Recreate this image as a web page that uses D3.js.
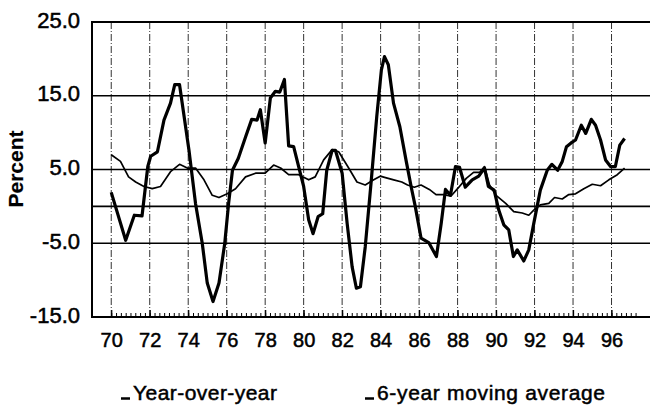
<!DOCTYPE html>
<html>
<head>
<meta charset="utf-8">
<script src="https://cdn.jsdelivr.net/npm/d3@7"></script>
<style>
  body { margin: 0; background: #fff; }
  text { font-family: "Liberation Sans", Arial, Helvetica, sans-serif; fill: #000; stroke: #000; stroke-width: 0.5px; }
</style>
</head>
<body>
<div id="chartArea"></div>
<script>

// year-over-year series (thick line)
var yoyYears = [70.0, 70.75, 71.2, 71.6, 71.9, 72.05, 72.4, 72.74, 73.08, 73.3, 73.55, 74.04, 74.38, 74.73, 74.99, 75.29, 75.6, 75.9, 76.1, 76.3, 76.6, 76.98,
  77.3, 77.58, 77.75, 78.0, 78.27, 78.53, 78.76, 79.0, 79.22, 79.48, 79.74, 80.0, 80.26, 80.49, 80.75, 80.99, 81.2, 81.48, 81.65, 82.0, 82.26, 82.52, 82.74, 82.95,
  83.2, 83.5, 83.8, 84.04, 84.2, 84.4, 84.67, 85.0, 85.34, 85.6, 85.8, 86.1, 86.5, 86.9, 87.15, 87.37, 87.63, 87.89, 88.1, 88.4, 88.76, 89.1, 89.4, 89.6, 89.9,
  90.14, 90.4, 90.66, 90.9, 91.1, 91.44, 91.7, 91.96, 92.3, 92.66, 92.9, 93.2, 93.44, 93.66, 93.9, 94.13, 94.43, 94.66, 94.95, 95.17, 95.43, 95.69, 95.95, 96.2, 96.43, 96.68]
var yoyValues = [1.9, -4.6, -1.2, -1.3, 5.4, 6.8, 7.4, 11.7, 14.0, 16.5, 16.5, 7.6, 0.4, -5.0, -10.4, -12.9, -10.4, -5.0, 0.4, 4.9, 6.5, 9.4,
  11.8, 11.7, 13.1, 8.6, 14.7, 15.6, 15.5, 17.2, 8.2, 8.1, 5.4, 2.7, -1.8, -3.7, -1.4, -1.0, 4.9, 7.6, 7.6, 4.5, -2.3, -8.2, -11.1, -10.9,
  -5.5, 3.1, 12.2, 18.5, 20.3, 19.2, 14.0, 10.8, 6.0, 2.5, 0.0, -4.3, -4.9, -6.8, -2.3, 2.3, 1.5, 5.4, 5.3, 2.6, 3.6, 4.1, 5.2, 2.7, 2.2,
  -0.5, -2.5, -3.2, -6.8, -5.9, -7.4, -5.9, -2.3, 2.2, 4.9, 5.7, 4.9, 6.1, 8.1, 8.6, 9.0, 11.0, 9.9, 11.8, 11.0, 9.0, 6.3, 5.4, 5.4, 8.3, 9.2]

// 6-year moving average (thin line)
var maYears = [70.0, 70.48, 70.9, 71.27, 71.7, 72.13, 72.56, 73.08, 73.55, 73.95, 74.38, 74.82, 75.25, 75.6, 76.03, 76.46, 76.98, 77.5, 78.0, 78.44, 78.8,
  79.22, 79.74, 80.26, 80.6, 81.04, 81.48, 81.82, 82.34, 82.77, 83.2, 83.64, 83.98, 84.25, 84.68, 85.1, 85.4, 85.75, 86.1, 86.53, 86.88, 87.3, 87.66,
  88.0, 88.45, 88.83, 89.14, 89.4, 89.66, 90.0, 90.5, 90.92, 91.36, 91.7, 91.96, 92.3, 92.74, 93.04, 93.44, 93.78, 94.13, 94.56, 95.0, 95.43, 95.86, 96.3, 96.68]
var maValues = [7.0, 6.1, 4.0, 3.3, 2.7, 2.4, 2.7, 4.7, 5.7, 5.2, 5.2, 3.6, 1.5, 1.2, 1.7, 2.4, 4.0, 4.5, 4.5, 5.6, 5.2,
  4.3, 4.3, 3.6, 4.0, 6.3, 7.7, 7.4, 5.2, 3.3, 2.9, 3.6, 4.1, 3.9, 3.6, 3.3, 2.9, 2.6, 2.9, 2.3, 1.6, 1.6, 1.4,
  2.4, 3.8, 4.6, 4.6, 5.4, 2.9, 1.5, 0.4, -0.7, -0.9, -1.2, -0.5, 0.2, 0.4, 1.2, 1.0, 1.6, 1.7, 2.4, 3.0, 2.8, 3.6, 4.3, 5.2]

// axis labels
var yTickValues = [25, 15, 5, -5, -15]
var yGridValues = [15, 5, 0, -5]
var xTickValues = [70, 72, 74, 76, 78, 80, 82, 84, 86, 88, 90, 92, 94, 96]
var legendNames = ["Year-over-year", "6-year moving average"]

function createChart() {
  var width = 650, height = 410
  var left = 92, top = 22, right = 650, bottom = 317

  var svg = d3.select('#chartArea')
    .append('svg')
    .attr('width', width)
    .attr('height', height)

  var x = d3.scaleLinear().domain([69, 98]).range([left, right])
  var y = d3.scaleLinear().domain([-15, 25]).range([bottom, top])

  // dashed verticals every 2 years
  svg.append('g')
    .selectAll('line')
    .data(xTickValues)
    .enter()
    .append('line')
    .attr('x1', d => x(d)).attr('x2', d => x(d))
    .attr('y1', top).attr('y2', bottom)
    .attr('stroke', '#333')
    .attr('stroke-width', 1)
    .attr('stroke-dasharray', '7,2,1,2')

  // horizontal grid
  svg.append('g')
    .selectAll('line')
    .data(yGridValues)
    .enter()
    .append('line')
    .attr('x1', left).attr('x2', right)
    .attr('y1', d => y(d)).attr('y2', d => y(d))
    .attr('stroke', '#000')
    .attr('stroke-width', 1.6)

  // frame: top, left, bottom
  svg.append('path')
    .attr('d', `M${right},${y(25)}H${left}V${y(-15)}H${right}`)
    .attr('fill', 'none')
    .attr('stroke', '#000')
    .attr('stroke-width', 2)

  // quarterly minor ticks
  var minor = d3.range(70, 97.3, 0.25)
  svg.append('g')
    .attr('transform', `translate(0,${bottom})`)
    .call(d3.axisBottom(x).tickValues(minor).tickSize(-4).tickFormat(''))
    .call(g => g.select('.domain').remove())
    .selectAll('line').attr('stroke-width', 1)

  // x axis labels
  var xAxis = svg.append('g')
    .attr('transform', `translate(0,${bottom})`)
    .call(d3.axisBottom(x).tickValues(xTickValues).tickSize(-7).tickPadding(30).tickFormat(d => d))
  xAxis.select('.domain').remove()
  xAxis.selectAll('line').attr('stroke-width', 1.2)
  xAxis.selectAll('text')
    .attr('font-size', '20px')
    .attr('dy', '0')

  // y axis labels
  var yAxis = svg.append('g')
    .attr('transform', `translate(${left},0)`)
    .call(d3.axisLeft(y).tickValues(yTickValues).tickSize(0).tickPadding(12).tickFormat(d => d.toFixed(1)))
  yAxis.select('.domain').remove()
  yAxis.selectAll('text')
    .attr('font-size', '22px')
    .attr('dy', '0.32em')
    .attr('y', -2)

  svg.append('text')
    .attr('transform', 'translate(23,169) rotate(-90)')
    .attr('text-anchor', 'middle')
    .attr('font-size', '21px')
    .attr('font-weight', 'bold')
    .style('stroke-width', '0.2px')
    .text('Percent')

  // lines
  var line = d3.line()
    .x(d => x(d[0]))
    .y(d => y(d[1]))

  var maData = maYears.map((e, i) => [e, maValues[i]])
  var yoyData = yoyYears.map((e, i) => [e, yoyValues[i]])

  svg.append('path')
    .datum(maData)
    .attr('d', line)
    .attr('fill', 'none')
    .attr('stroke', '#000')
    .attr('stroke-width', 1.7)
    .attr('stroke-linejoin', 'round')

  svg.append('path')
    .datum(yoyData)
    .attr('d', line)
    .attr('fill', 'none')
    .attr('stroke', '#000')
    .attr('stroke-width', 3.2)
    .attr('stroke-linejoin', 'round')

  // legend
  var legendX = [121, 365]
  var lg = svg.append('g')
    .selectAll('g')
    .data(legendNames)
    .enter()
    .append('g')
    .attr('transform', (d, i) => `translate(${legendX[i]},400)`)

  lg.append('line')
    .attr('x1', 0).attr('x2', 9)
    .attr('y1', -1.5).attr('y2', -1.5)
    .attr('stroke', '#000')
    .attr('stroke-width', 2.5)

  lg.append('text')
    .attr('x', 12)
    .attr('font-size', '21px')
    .attr('textLength', (d, i) => i == 0 ? 144 : 228)
    .text(d => d)
}

createChart()
</script>
</body>
</html>
